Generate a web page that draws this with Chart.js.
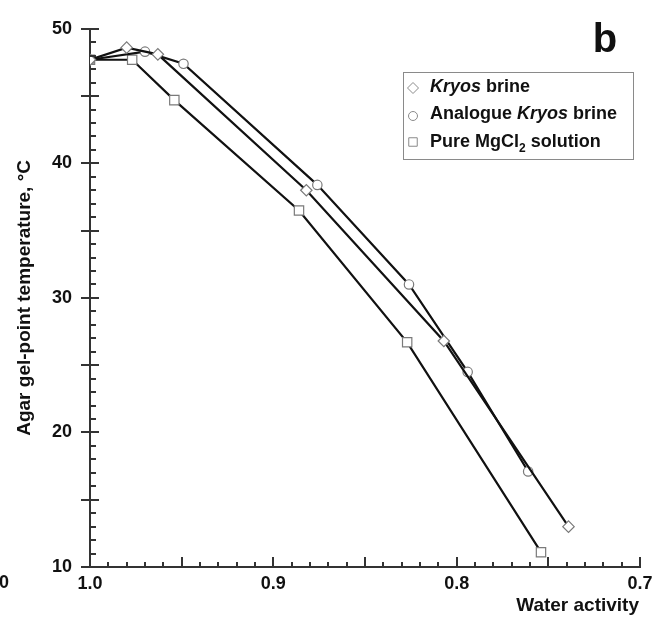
<!DOCTYPE html>
<html>
<head>
<meta charset="utf-8">
<script src="https://cdn.jsdelivr.net/npm/chart.js@4"></script>
<style>
  html, body { margin: 0; padding: 0; background: #fff; }
</style>
</head>
<body>
<canvas id="gelChart" width="661" height="624"></canvas>
<script>
// Water activity (x) vs agar gel-point temperature (y)
const kryosAw = [1.0, 0.980, 0.963, 0.882, 0.807, 0.739];
const kryosTemp = [47.7, 48.6, 48.1, 38.0, 26.8, 13.0];

const analogueAw = [1.0, 0.970, 0.949, 0.876, 0.826, 0.794, 0.761];
const analogueTemp = [47.7, 48.3, 47.4, 38.4, 31.0, 24.5, 17.1];

const mgcl2Aw = [1.0, 0.977, 0.954, 0.886, 0.827, 0.754];
const mgcl2Temp = [47.7, 47.7, 44.7, 36.5, 26.7, 11.1];

const xTickLabels = ['0.7', '0.8', '0.9', '1.0'];
const yTickLabels = ['10', '20', '30', '40', '50'];

const FONT = "'Liberation Sans', Arial, sans-serif";

function toPoints(xs, ys) {
    return xs.map((v, i) => ({ x: v, y: ys[i] }));
}

const series = (label, xs, ys, style, radius) => ({
    label: label,
    data: toPoints(xs, ys),
    showLine: true,
    borderColor: '#111',
    borderWidth: 2.2,
    tension: 0,
    pointStyle: style,
    pointRadius: radius,
    pointHoverRadius: radius,
    pointBackgroundColor: '#fff',
    pointBorderColor: '#7a7a7a',
    pointBorderWidth: 1.2,
});

// minor/major tick marks, legend box, x title and panel letter
const overlay = {
    id: 'overlay',
    afterDraw(chart) {
        const { ctx, scales: { x, y } } = chart;
        ctx.save();
        ctx.strokeStyle = '#333';
        ctx.lineWidth = 2;

        const axisX = Math.round(x.getPixelForValue(1.0));
        for (let v = 10; v <= 50; v++) {
            const py = Math.round(y.getPixelForValue(v));
            ctx.beginPath();
            if (v % 5 === 0) {
                ctx.moveTo(axisX - 9, py);
                ctx.lineTo(axisX + 9, py);
            } else {
                ctx.moveTo(axisX, py);
                ctx.lineTo(axisX + 6, py);
            }
            ctx.stroke();
        }

        const axisY = Math.round(y.getPixelForValue(10));
        for (let i = 70; i < 100; i++) {
            const px = Math.round(x.getPixelForValue(i / 100));
            ctx.beginPath();
            ctx.moveTo(px, axisY);
            ctx.lineTo(px, axisY - (i % 5 === 0 ? 10 : 5));
            ctx.stroke();
        }

        // x axis title, right aligned under the axis end
        ctx.fillStyle = '#111';
        ctx.font = 'bold 19px ' + FONT;
        ctx.textAlign = 'right';
        ctx.textBaseline = 'alphabetic';
        ctx.fillText('Water activity', x.right - 1, 611);

        // legend
        ctx.strokeStyle = '#8a8a8a';
        ctx.lineWidth = 1;
        ctx.strokeRect(403.5, 72.5, 230, 87);

        const rows = [
            { style: 'rectRot', r: 5.5, y: 88, base: 92,
              parts: [{ t: 'Kryos', it: true }, { t: ' brine' }] },
            { style: 'circle', r: 4.5, y: 116, base: 119,
              parts: [{ t: 'Analogue ' }, { t: 'Kryos', it: true }, { t: ' brine' }] },
            { style: 'rect', r: 6, y: 142, base: 147,
              parts: [{ t: 'Pure MgCl' }, { t: '2', sub: true }, { t: ' solution' }] },
        ];
        rows.forEach(row => {
            ctx.fillStyle = '#fff';
            ctx.strokeStyle = '#8a8a8a';
            Chart.helpers.drawPoint(ctx, { pointStyle: row.style, radius: row.r, borderWidth: 1 }, 413, row.y);
            let tx = 430;
            ctx.fillStyle = '#111';
            ctx.textAlign = 'left';
            ctx.textBaseline = 'alphabetic';
            row.parts.forEach(p => {
                ctx.font = (p.it ? 'italic ' : '') + 'bold ' + (p.sub ? 12 : 18) + 'px ' + FONT;
                ctx.fillText(p.t, tx, row.base + (p.sub ? 5 : 0));
                tx += ctx.measureText(p.t).width;
            });
        });

        // panel letter
        ctx.fillStyle = '#111';
        ctx.font = 'bold 40px ' + FONT;
        ctx.textAlign = 'center';
        ctx.fillText('b', 605, 52);

        // cut-off label of the neighbouring panel
        ctx.font = 'bold 18px ' + FONT;
        ctx.textAlign = 'right';
        ctx.fillText('0', 9, 588);
        ctx.restore();
    }
};

new Chart(document.getElementById('gelChart'), {
    type: 'scatter',
    data: {
        datasets: [
            series('Kryos brine', kryosAw, kryosTemp, 'rectRot', 5.7),
            series('Analogue Kryos brine', analogueAw, analogueTemp, 'circle', 4.7),
            series('Pure MgCl2 solution', mgcl2Aw, mgcl2Temp, 'rect', 6.6),
        ]
    },
    options: {
        responsive: false,
        animation: false,
        devicePixelRatio: 1,
        layout: { padding: { top: 16, right: 21, left: 0, bottom: 0 } },
        plugins: {
            legend: { display: false },
            tooltip: { enabled: false }
        },
        scales: {
            x: {
                type: 'linear',
                reverse: true,
                min: 0.7,
                max: 1.0,
                afterFit(scale) { scale.height = 57; },
                afterBuildTicks(scale) {
                    scale.ticks = xTickLabels.map(t => ({ value: parseFloat(t) }));
                },
                ticks: {
                    color: '#111',
                    padding: 6,
                    maxRotation: 0,
                    autoSkip: false,
                    font: { family: FONT, size: 18, weight: 'bold' },
                    callback: v => Number(v).toFixed(1)
                },
                grid: { display: false, drawTicks: false },
                border: { display: true, color: '#333', width: 2 }
            },
            y: {
                min: 10,
                max: 50,
                afterFit(scale) { scale.width = 90; },
                afterBuildTicks(scale) {
                    scale.ticks = yTickLabels.map(t => ({ value: parseFloat(t) }));
                },
                ticks: {
                    color: '#111',
                    padding: 18,
                    font: { family: FONT, size: 18, weight: 'bold' },
                    callback: v => String(v)
                },
                grid: { display: false, drawTicks: false },
                border: { display: true, color: '#333', width: 2 },
                title: {
                    display: true,
                    text: 'Agar gel-point temperature, °C',
                    color: '#111',
                    font: { family: FONT, size: 19, weight: 'bold' },
                    padding: { top: 13, bottom: 0 }
                }
            }
        }
    },
    plugins: [overlay]
});
</script>
</body>
</html>
